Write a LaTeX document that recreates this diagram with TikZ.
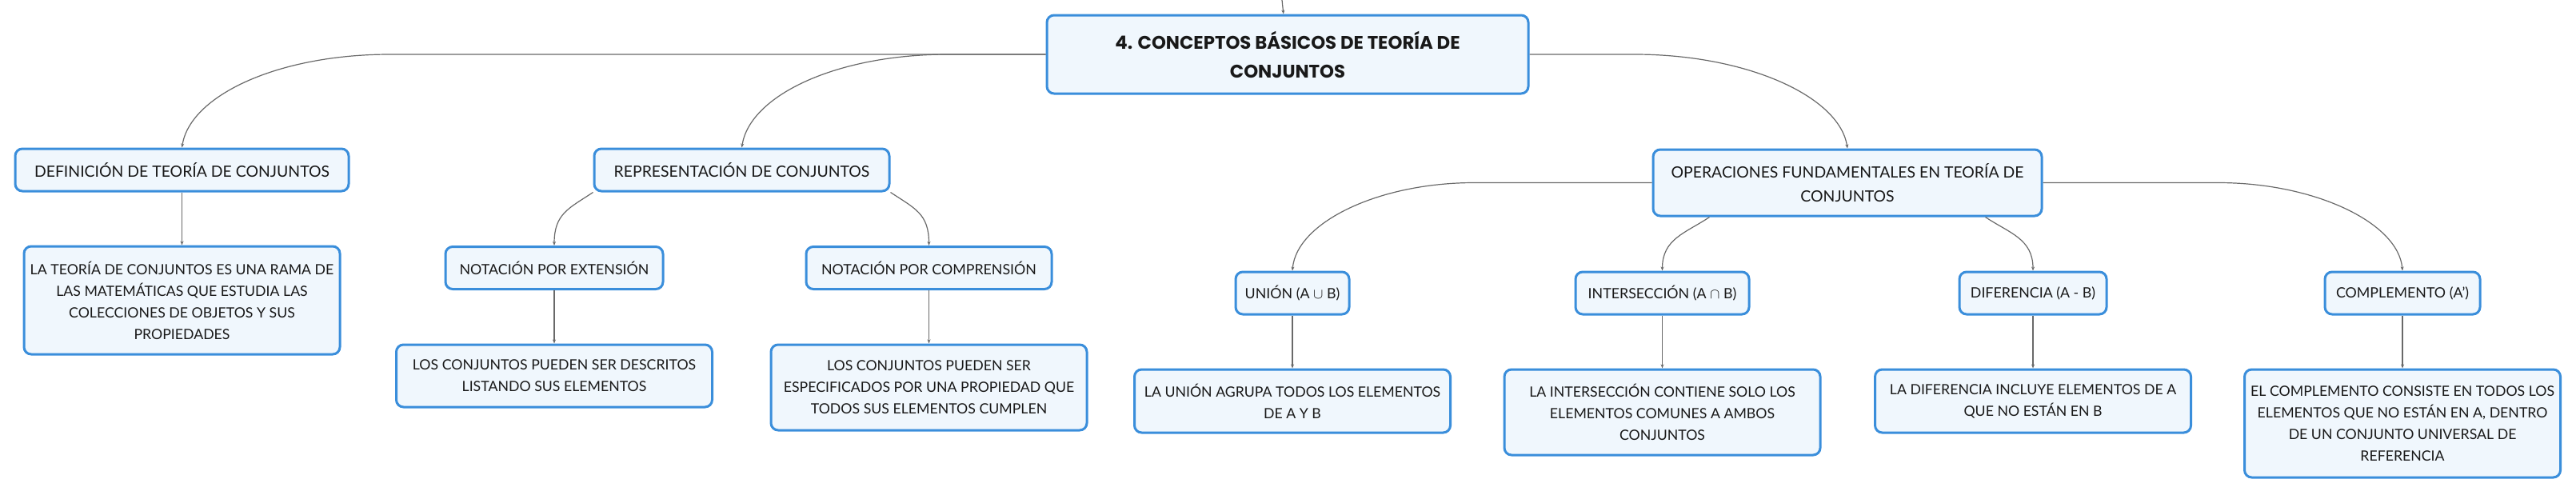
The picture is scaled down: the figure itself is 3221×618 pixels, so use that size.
\documentclass[tikz,border=0pt]{standalone}
\usepackage{fontspec}
\setmainfont{Lato}
\newfontfamily\titlefont{Poppins}
\usetikzlibrary{arrows.meta,calc}

\definecolor{boxline}{RGB}{58,142,219}
\definecolor{boxfill}{RGB}{240,247,253}
\definecolor{linkgray}{RGB}{105,105,105}
\definecolor{ink}{RGB}{25,25,25}

\begin{document}
\begin{tikzpicture}[x=0.5pt,y=-0.5pt]
        \tikzstyle{box}=[draw=boxline,fill=boxfill,line width=1.5pt,rounded corners=4.5pt,align=center,text=ink,inner sep=2pt]
        \tikzstyle{root}=[box,font=\titlefont\bfseries\fontsize{11.4pt}{18pt}\selectfont,minimum width=301pt,minimum height=49pt]
        \tikzstyle{topic}=[box,font=\fontsize{9.7pt}{15.3pt}\selectfont,minimum height=26.5pt]
        \tikzstyle{sub}=[box,font=\fontsize{8.9pt}{13.5pt}\selectfont,minimum height=26.5pt]
        \tikzstyle{note}=[box,font=\fontsize{8.85pt}{13.5pt}\selectfont,minimum width=197.5pt]
        \tikzstyle{link}=[draw=linkgray,line width=0.6pt,-{Stealth[length=2.5pt,width=2pt]}]

        \useasboundingbox (0,0) rectangle (3221,618);

        \coordinate (up) at (1603,0);
        \node[root](root) at (1610,68){4. CONCEPTOS BÁSICOS DE TEORÍA DE\\CONJUNTOS};

        \node[topic,minimum width=208.5pt](def) at (227.5,212.5){DEFINICIÓN DE TEORÍA DE CONJUNTOS};
        \node[note,minimum height=67.5pt](defTxt) at (227.5,375.5){LA TEORÍA DE CONJUNTOS ES UNA RAMA DE\\LAS MATEMÁTICAS QUE ESTUDIA LAS\\COLECCIONES DE OBJETOS Y SUS\\PROPIEDADES};

        \node[topic,minimum width=184.5pt](repr) at (927.5,212.5){REPRESENTACIÓN DE CONJUNTOS};
        \node[sub,minimum width=136pt](ext) at (693,335){NOTACIÓN POR EXTENSIÓN};
        \node[note,minimum height=39pt](extTxt) at (693,470){LOS CONJUNTOS PUEDEN SER DESCRITOS\\LISTANDO SUS ELEMENTOS};
        \node[sub,minimum width=153.5pt](comp) at (1161.5,335){NOTACIÓN POR COMPRENSIÓN};
        \node[note,minimum height=53.5pt](compTxt) at (1161.5,484.5){LOS CONJUNTOS PUEDEN SER\\ESPECIFICADOS POR UNA PROPIEDAD QUE\\TODOS SUS ELEMENTOS CUMPLEN};

        \node[topic,minimum width=243pt,minimum height=41.5pt](ops) at (2310,228.5){OPERACIONES FUNDAMENTALES EN TEORÍA DE\\CONJUNTOS};
        \node[sub,minimum width=71pt](union) at (1616,366.5){UNIÓN (A {\small$\cup$} B)};
        \node[note,minimum height=39.5pt](unionTxt) at (1616,501.5){LA UNIÓN AGRUPA TODOS LOS ELEMENTOS\\DE A Y B};
        \node[sub,minimum width=108.5pt](inter) at (2078.5,366.5){INTERSECCIÓN (A $\cap$ B)};
        \node[note,minimum height=53.5pt](interTxt) at (2078.5,515.5){LA INTERSECCIÓN CONTIENE SOLO LOS\\ELEMENTOS COMUNES A AMBOS\\CONJUNTOS};
        \node[sub,minimum width=92pt](diff) at (2542,366.5){DIFERENCIA (A - B)};
        \node[note,minimum height=39.5pt](diffTxt) at (2542,501.5){LA DIFERENCIA INCLUYE ELEMENTOS DE A\\QUE NO ESTÁN EN B};
        \node[sub,minimum width=97pt](compl) at (3004,366.5){COMPLEMENTO (A’)};
        \node[note,minimum height=67.5pt](complTxt) at (3004,529.5){EL COMPLEMENTO CONSISTE EN TODOS LOS\\ELEMENTOS QUE NO ESTÁN EN A, DENTRO\\DE UN CONJUNTO UNIVERSAL DE\\REFERENCIA};

        \draw[link] (up) -- (root);

        \draw[link] (root.west) -- ($(def.north |- root.west)+(260,0)$) .. controls +(-140,0) and +(10,-65) .. (def.north);
        \draw[link] (root.west) -- ($(repr.north |- root.west)+(258,0)$) .. controls +(-140,0) and +(10,-65) .. (repr.north);
        \draw[link] (root.east) -- ($(ops.north |- root.east)+(-266,0)$) .. controls +(140,0) and +(-10,-65) .. (ops.north);

        \draw[link] (def) -- (defTxt);

        \draw[link] (repr.south west) .. controls +(-30,20) and +(0,-40) .. (ext.north);
        \draw[link] (repr.south east) .. controls +(30,20) and +(0,-40) .. (comp.north);
        \draw[link] (ext) -- (extTxt);
        \draw[link] (comp) -- (compTxt);

        \draw[link] (ops.west) -- ($(union.north |- ops.west)+(227,0)$) .. controls +(-120,0) and +(5,-60) .. (union.north);
        \draw[link] (ops.194) .. controls +(-30,20) and +(0,-40) .. (inter.north);
        \draw[link] (ops.346) .. controls +(30,20) and +(0,-40) .. (diff.north);
        \draw[link] (ops.east) -- ($(compl.north |- ops.east)+(-230,0)$) .. controls +(120,0) and +(-5,-60) .. (compl.north);

        \draw[link] (union) -- (unionTxt);
        \draw[link] (inter) -- (interTxt);
        \draw[link] (diff) -- (diffTxt);
        \draw[link] (compl) -- (complTxt);

    \end{tikzpicture}
\end{document}
